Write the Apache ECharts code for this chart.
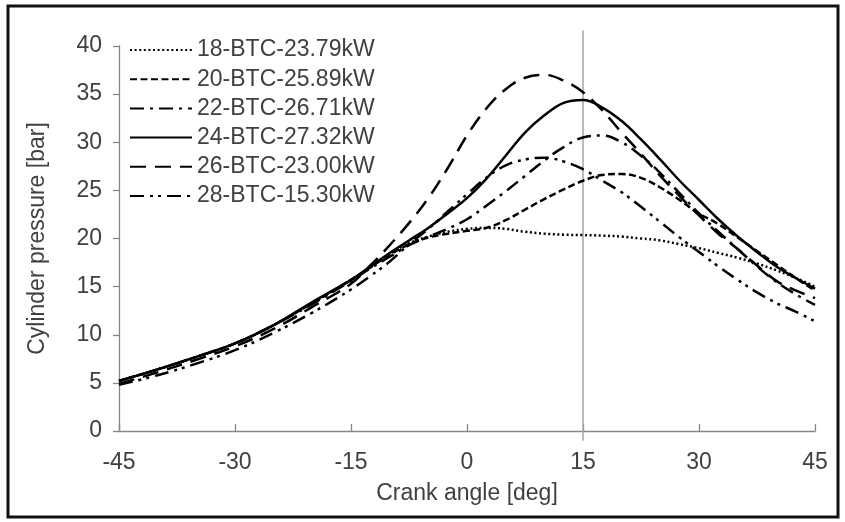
<!DOCTYPE html>
<html>
<head>
<meta charset="utf-8">
<script src="https://cdn.jsdelivr.net/npm/echarts@6/dist/echarts.min.js"></script>
<style>
html,body{margin:0;padding:0;background:#fff;}
#chart{width:845px;height:522px;}
</style>
</head>
<body>
<div id="chart"></div>
<script>
var angles = [-45,-40,-35,-30,-25,-20,-15,-12.5,-10,-7.5,-5,-2.5,0,2.5,5,7.5,10,12.5,15,17.5,20,22.5,25,27.5,30,32.5,35,37.5,40,42.5,45];
var btc18 = [5.2,6.4,7.7,9.1,11.0,13.3,15.7,17.0,18.4,19.5,20.2,20.7,21.0,21.1,21.0,20.7,20.5,20.4,20.35,20.3,20.2,20.0,19.8,19.4,19.0,18.5,18.0,17.4,16.7,15.9,15.0];
var btc20 = [5.2,6.4,7.7,9.1,11.0,13.3,15.7,17.0,18.3,19.4,20.1,20.5,20.8,21.1,21.9,23.0,24.1,25.1,26.0,26.6,26.7,26.3,25.3,24.0,22.6,21.5,20.1,18.7,17.3,15.9,14.6];
var btc22 = [5.2,6.4,7.7,9.1,11.0,13.2,15.6,16.9,18.1,19.3,20.2,21.0,22.0,23.4,24.9,26.5,28.1,29.5,30.5,30.7,30.0,28.6,26.8,24.7,22.6,20.7,18.9,17.1,15.5,14.2,13.1];
var btc24 = [5.2,6.4,7.7,9.1,11.0,13.4,15.7,17.1,18.5,19.8,21.1,22.6,24.2,26.2,28.6,31.0,32.8,34.1,34.4,33.6,32.2,30.3,28.2,26.0,24.0,22.0,20.2,18.6,17.1,15.9,14.8];
var btc26 = [4.9,6.1,7.4,8.8,10.6,12.9,15.3,17.2,19.3,21.6,24.2,27.3,30.7,33.5,35.5,36.7,37.0,36.4,35.2,33.3,31.0,28.8,26.5,24.4,22.4,20.5,18.9,17.2,15.6,14.6,13.8];
var btc28 = [4.8,5.8,7.0,8.4,10.2,12.3,14.7,16.1,17.6,19.4,21.0,22.8,24.6,26.3,27.6,28.2,28.4,28.0,27.2,26.0,24.8,23.3,21.7,20.1,18.6,17.1,15.7,14.4,13.3,12.4,11.4];
var seriesNames = ['18-BTC-23.79kW','20-BTC-25.89kW','22-BTC-26.71kW','24-BTC-27.32kW','26-BTC-23.00kW','28-BTC-15.30kW'];
var xTicks = [-45,-30,-15,0,15,30,45];
var yTicks = [0,5,10,15,20,25,30,35,40];
var markerAngle = [15,15];
var markerPressure = [-1,41.6];

var FONT = '"Liberation Sans", Arial, sans-serif';
var TXT = '#404040';
function pairs(v){ return angles.map(function(a,i){ return [a, v[i]]; }); }
var dashTypes = [[2,2.6],[7,3.5],[14,6,3,6],'solid',[16,9],[14,6,3,5,3,6]];
var vals = [btc18,btc20,btc22,btc24,btc26,btc28];
var series = vals.map(function(v,i){
  return {
    name: seriesNames[i], type:'line', data: pairs(v), smooth:0.4, symbol:'none', showSymbol:false,
    itemStyle:{color:'#000'},
    lineStyle:{color:'#000', width: 2.5, type: dashTypes[i], cap:'butt'}, z: 3
  };
});
series.unshift({
  name:'marker', type:'line', data: markerAngle.map(function(a,i){return [a, markerPressure[i]];}),
  symbol:'none', clip:false, silent:true, lineStyle:{color:'#a6a6a6', width:1.5}, z:1
});

var chart = echarts.init(document.getElementById('chart'), null, {renderer:'canvas'});
chart.setOption({
  animation:false,
  backgroundColor:'#fff',
  textStyle:{fontFamily:FONT},
  graphic:[{type:'rect', shape:{x:8,y:6,width:830,height:511}, style:{fill:'none', stroke:'#111', lineWidth:3}, silent:true}],
  grid:{left:119, right:30, top:46, bottom:91},
  legend:{
    data: seriesNames, orient:'vertical', left:124, top:33.5, itemWidth:62, itemHeight:14, itemGap:6.2,
    itemStyle:{opacity:0},
    textStyle:{fontFamily:FONT, fontSize:23, color:TXT, lineHeight:23}
  },
  xAxis:{
    type:'value', min:-45, max:45, interval:15,
    name:'Crank angle [deg]', nameLocation:'middle', nameGap:51,
    nameTextStyle:{fontFamily:FONT, fontSize:23, color:TXT},
    axisLine:{onZero:false, lineStyle:{color:'#868686', width:1.3}},
    axisTick:{inside:true, length:7, lineStyle:{color:'#868686', width:1.3}},
    axisLabel:{fontFamily:FONT, fontSize:23, color:TXT, margin:20, formatter:function(v){return xTicks.indexOf(v)>=0? String(v):'';}},
    splitLine:{show:false}
  },
  yAxis:{
    type:'value', min:0, max:40, interval:5,
    name:'Cylinder pressure [bar]', nameLocation:'middle', nameGap:70,
    nameTextStyle:{fontFamily:FONT, fontSize:23, color:TXT},
    axisLine:{show:true, onZero:false, lineStyle:{color:'#868686', width:1.3}},
    axisTick:{show:true, inside:false, length:6, lineStyle:{color:'#868686', width:1.3}},
    axisLabel:{fontFamily:FONT, fontSize:23, color:TXT, margin:17, formatter:function(v){return yTicks.indexOf(v)>=0? String(v):'';}},
    splitLine:{show:false}
  },
  series: series
});
</script>
</body>
</html>
